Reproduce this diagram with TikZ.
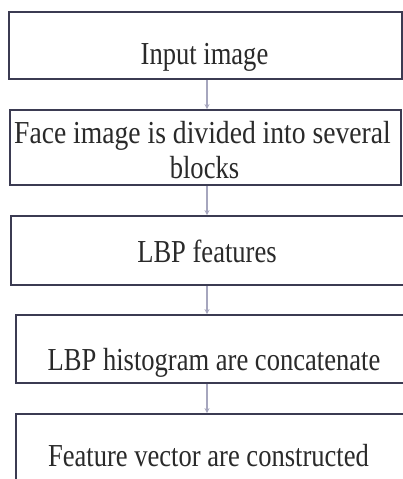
\documentclass[tikz,border=0pt]{standalone}
\usepackage{graphicx}
\usepackage{fontspec}
\setmainfont{Liberation Serif}[FakeStretch=0.83]
\usetikzlibrary{arrows.meta}
\definecolor{boxline}{HTML}{3B3B52}
\definecolor{arrline}{HTML}{A6A6BE}
\definecolor{txt}{HTML}{2A2A2A}
\tikzset{
  stepbox/.style={draw=boxline, line width=1.8pt, rectangle, inner sep=0pt},
  lbl/.style={text=txt, inner sep=0pt, anchor=base, font=\fontsize{32}{36}\selectfont},
  arr/.style={draw=arrline, line width=1.4pt, -{Stealth[length=5pt,width=5pt]}}
}
\begin{document}
\begin{tikzpicture}[x=1pt,y=-1pt]
\useasboundingbox (0,0) rectangle (403,479);
\clip (0,0) rectangle (403,479);
\fill[white] (0,0) rectangle (403,479);
% boxes
\node[stepbox, minimum width=393pt, minimum height=67pt] (b1) at (205.5,45.5) {};
\node[stepbox, minimum width=391pt, minimum height=75pt] (b2) at (205.5,147.5) {};
\node[stepbox, minimum width=396pt, minimum height=69pt] (b3) at (209,250.5) {};
\node[stepbox, minimum width=392pt, minimum height=68pt] (b4) at (212,349) {};
\node[stepbox, minimum width=392pt, minimum height=76pt] (b5) at (212,452) {};
% texts
\node[lbl] (t1) at (204.5,64) {Input image};
\node[lbl] (t2a) at (202.5,143) {\scalebox{1.04}[1]{Face image is divided into several}};
\node[lbl] (t2b) at (204.5,178) {blocks};
\node[lbl] (t3) at (207,262) {LBP features};
\node[lbl] (t4) at (214,370) {LBP histogram are concatenate};
\node[lbl] (t5) at (208.5,466.5) {Feature vector are constructed};
% arrows
\coordinate (ax) at (207,0);
\draw[arr] (b1.south -| ax) -- (b2.north -| ax);
\draw[arr] (b2.south -| ax) -- (b3.north -| ax);
\draw[arr] (b3.south -| ax) -- (b4.north -| ax);
\draw[arr] (b4.south -| ax) -- (b5.north -| ax);
\end{tikzpicture}
\end{document}
